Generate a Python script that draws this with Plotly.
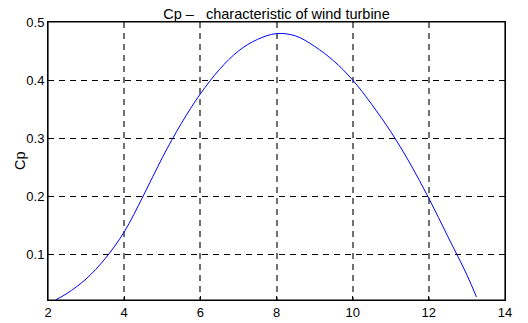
import plotly.graph_objects as go

tsr = [2.2, 2.5, 3.0, 3.5, 4.0, 4.5, 5.0, 5.5, 6.0, 6.5, 7.0, 7.5, 8.0,
       8.5, 9.0, 9.5, 10.0, 10.5, 11.0, 11.5, 12.0, 12.5, 13.0, 13.25]
cp = [0.021, 0.032, 0.057, 0.092, 0.138, 0.200, 0.266, 0.325, 0.376, 0.418,
      0.450, 0.470, 0.480, 0.476, 0.458, 0.433, 0.400, 0.358, 0.311, 0.257,
      0.196, 0.130, 0.064, 0.026]
x_ticks = [2, 4, 6, 8, 10, 12, 14]
y_ticks = [0.1, 0.2, 0.3, 0.4, 0.5]

fig = go.Figure()
fig.add_trace(go.Scatter(x=tsr, y=cp, mode="lines",
                         line=dict(color="#0000ff", width=1, shape="spline", smoothing=1.0),
                         showlegend=False, hoverinfo="skip"))

fam = "Liberation Sans, Arial, sans-serif"
font = dict(family=fam, size=13, color="black")
fig.update_layout(
    width=528, height=323,
    margin=dict(l=48, r=23, t=22, b=23, autoexpand=False),
    paper_bgcolor="white", plot_bgcolor="white",
    font=font,
    title=dict(text="Cp \u2013\u00a0\u00a0\u00a0characteristic of wind turbine",
               x=0.5, xref="paper", y=1, yref="paper", yanchor="bottom",
               pad=dict(b=3), font=dict(family=fam, size=14.5, color="black")),
    annotations=[dict(text="Cp", x=-28 / 457, xref="paper", xanchor="center",
                      y=0.5, yref="paper", yanchor="middle", showarrow=False,
                      textangle=-90, font=dict(family=fam, size=14.5, color="black"))],
    shapes=[dict(type="rect", xref="paper", yref="paper", x0=0, y0=0, x1=1, y1=1,
                 line=dict(color="black", width=1.2), layer="above")],
)
fig.update_xaxes(range=[2, 14], tickvals=x_ticks, ticktext=[str(v) for v in x_ticks],
                 showline=True, linecolor="black", linewidth=1, mirror=True,
                 ticks="inside", ticklen=4, tickcolor="black",
                 showgrid=True, gridcolor="#707070", gridwidth=1.6, griddash="6px,5px",
                 zeroline=False, tickfont=font, automargin=False)
fig.update_yaxes(range=[0.0207, 0.5], tickvals=y_ticks, ticktext=[str(v) for v in y_ticks],
                 showline=True, linecolor="black", linewidth=1, mirror=True,
                 ticks="inside", ticklen=4, tickcolor="black",
                 showgrid=True, gridcolor="black", gridwidth=1, griddash="6px,5px",
                 zeroline=False, tickfont=font, automargin=False)

fig.write_html("out.html", config={"displayModeBar": False},
               post_script="document.body.style.margin='0';document.body.style.padding='0';")
